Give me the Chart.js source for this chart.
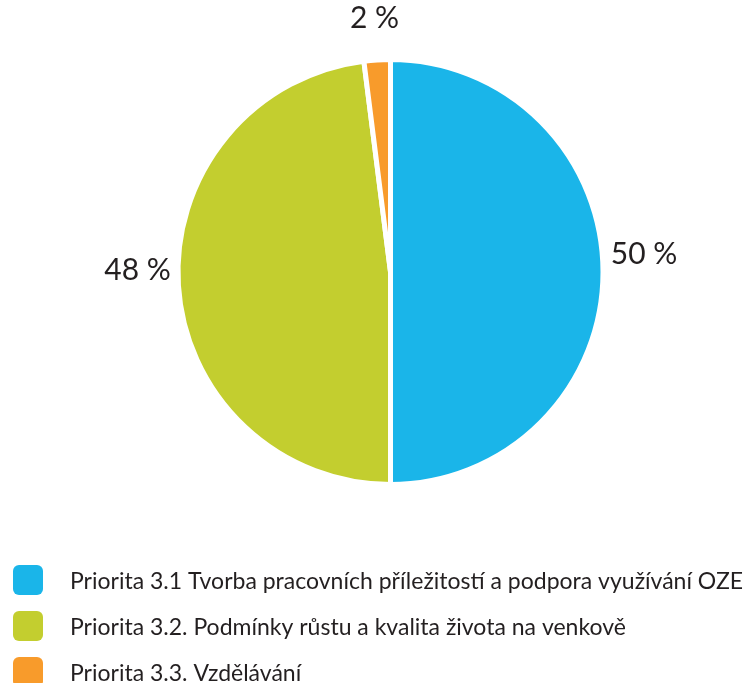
<!DOCTYPE html>
<html>
<head>
<meta charset="utf-8">
<script src="https://cdn.jsdelivr.net/npm/chart.js@4"></script>
<style>
  html, body { margin: 0; padding: 0; background: #ffffff; }
  #wrap { width: 747px; height: 683px; position: relative; }
</style>
</head>
<body>
<div id="wrap"><canvas id="c" width="747" height="683"></canvas></div>
<script>
const categories = [
  "Priorita 3.1 Tvorba pracovních příležitostí a podpora využívání OZE",
  "Priorita 3.2. Podmínky růstu a kvalita života na venkově",
  "Priorita 3.3. Vzdělávání"
];
const values = [50, 48, 2];
const valueLabels = ["50 %", "48 %", "2 %"];
const colors = ["#1AB5E9", "#C3CE2F", "#F89B2B"];

const TEXT = "#231F20";
const FONT = "Lato, 'Open Sans', sans-serif";

const labelPlugin = {
  id: 'outLabels',
  afterDatasetsDraw(chart) {
    const ctx = chart.ctx;
    const meta = chart.getDatasetMeta(0);
    ctx.save();
    ctx.fillStyle = TEXT;
    ctx.font = "30px " + FONT;
    ctx.textAlign = "center";
    ctx.textBaseline = "middle";
    meta.data.forEach((arc, i) => {
      const a = (arc.startAngle + arc.endAngle) / 2;
      const dist = arc.outerRadius + 41;
      const x = arc.x + dist * Math.cos(a);
      const y = arc.y + dist * Math.sin(a) - 18 * Math.abs(Math.cos(a));
      ctx.fillText(valueLabels[i], x, y);
    });
    ctx.restore();
  }
};

const legendPlugin = {
  id: 'customLegend',
  afterDraw(chart) {
    const ctx = chart.ctx;
    ctx.save();
    const x0 = 13, size = 30, top = 565, step = 46;
    categories.forEach((lab, i) => {
      const y = top + i * step;
      ctx.fillStyle = colors[i];
      ctx.beginPath();
      ctx.roundRect(x0, y, size, size, 6);
      ctx.fill();
      ctx.fillStyle = TEXT;
      ctx.font = "23px " + FONT;
      ctx.textAlign = "left";
      ctx.textBaseline = "middle";
      ctx.fillText(lab, 70, y + size / 2 + 2);
    });
    ctx.restore();
  }
};

new Chart(document.getElementById('c'), {
  type: 'pie',
  data: {
    labels: categories,
    datasets: [{
      data: values,
      backgroundColor: colors,
      borderColor: "#ffffff",
      borderWidth: 5,
      hoverOffset: 0
    }]
  },
  options: {
    responsive: false,
    animation: false,
    events: [],
    layout: { padding: { top: 57, bottom: 196, left: 34, right: 0 } },
    plugins: {
      legend: { display: false },
      tooltip: { enabled: false },
      title: { display: false }
    }
  },
  plugins: [labelPlugin, legendPlugin]
});
</script>
</body>
</html>
